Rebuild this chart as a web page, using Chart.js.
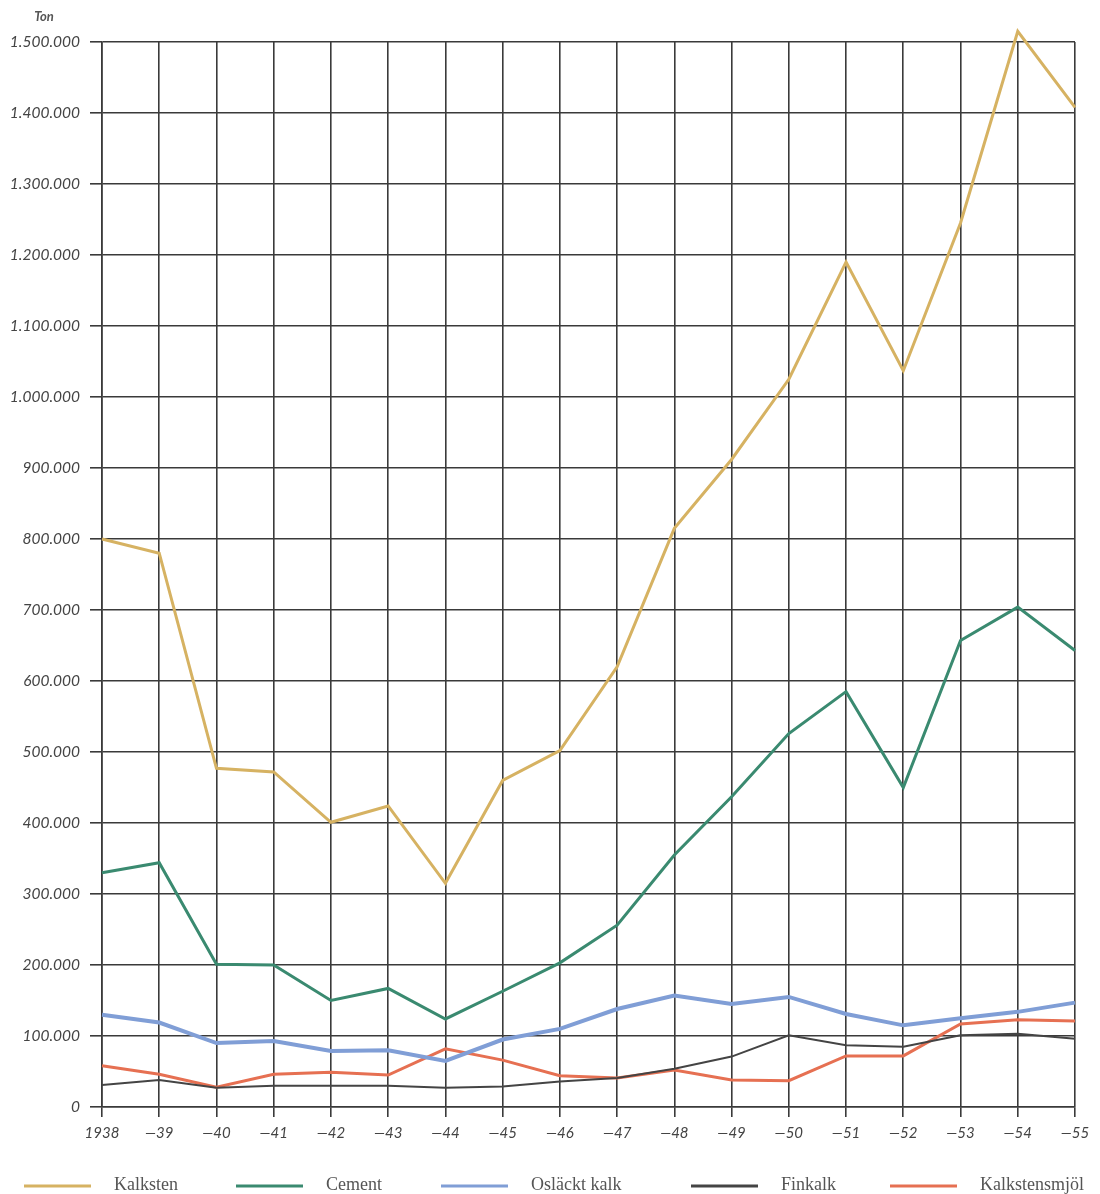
<!DOCTYPE html>
<html>
<head>
<meta charset="utf-8">
<script src="https://cdn.jsdelivr.net/npm/chart.js@4.4.0/dist/chart.umd.min.js"></script>
<style>
    html, body { margin: 0; padding: 0; background: #fff; }
</style>
</head>
<body>
<canvas id="chart" width="1100" height="1194"></canvas>
<script>
// years 1938 .. 1955, shown as 1938, —39, —40 ...
const yearLabels = ['1938', '—39', '—40', '—41', '—42', '—43', '—44', '—45', '—46',
    '—47', '—48', '—49', '—50', '—51', '—52', '—53', '—54', '—55'];

// tons
const kalksten = [800000, 780000, 477000, 472000, 401000, 424000, 315000, 460000, 502000,
    620000, 815000, 912000, 1025000, 1190000, 1037000, 1245000, 1515000, 1408000];
const cement = [330000, 344000, 201000, 200000, 150000, 167000, 124000, 163000, 203000,
    256000, 355000, 437000, 526000, 585000, 450000, 657000, 704000, 643000];
const oslacktKalk = [130000, 119000, 90000, 93000, 79000, 80000, 65000, 95000, 110000,
    138000, 157000, 145000, 155000, 131000, 115000, 125000, 134000, 147000];
const finkalk = [31000, 38000, 27000, 30000, 30000, 30000, 27000, 29000, 36000,
    41000, 54000, 71000, 101000, 87000, 85000, 101000, 103000, 96000];
const kalkstensmjol = [58000, 46000, 28000, 46000, 49000, 45000, 82000, 66000, 44000,
    41000, 52000, 38000, 37000, 72000, 72000, 117000, 123000, 121000];

const yMin = 0;
const yMax = 1500000;
const yStep = 100000;

function formatTon(value) {
    if (value === 0) return '0';
    return String(value).replace(/\B(?=(\d{3})+(?!\d))/g, '.');
}

function series(label, data, color, width) {
    return {
        label: label,
        data: data,
        borderColor: color,
        backgroundColor: color,
        borderWidth: width,
        pointRadius: 0,
        tension: 0,
        clip: false
    };
}

// small "Ton" caption above the y axis
const unitLabel = {
    id: 'unitLabel',
    afterDraw(chart) {
        const ctx = chart.ctx;
        ctx.save();
        ctx.font = 'italic bold 13px Lato';
        ctx.fillStyle = '#555';
        ctx.textAlign = 'center';
        ctx.textBaseline = 'middle';
        ctx.fillText('Ton', chart.chartArea.left - 58, chart.chartArea.top - 25);
        ctx.restore();
    }
};

// legend row along the bottom: a line sample, then the name in a serif face
const legendStarts = [24, 236, 441, 691, 890];
const legendRow = {
    id: 'legendRow',
    afterDraw(chart) {
        const ctx = chart.ctx;
        const y = chart.chartArea.bottom + 78;
        ctx.save();
        ctx.font = '18px "Liberation Serif"';
        ctx.textBaseline = 'middle';
        ctx.textAlign = 'left';
        chart.data.datasets.forEach((ds, i) => {
            const x = legendStarts[i];
            ctx.strokeStyle = ds.borderColor;
            ctx.lineWidth = 3;
            ctx.beginPath();
            ctx.moveTo(x, y + 1);
            ctx.lineTo(x + 67, y + 1);
            ctx.stroke();
            ctx.fillStyle = '#555';
            ctx.fillText(ds.label, x + 90, y);
        });
        ctx.restore();
    }
};

const gridColor = '#3a3a3a';

new Chart(document.getElementById('chart'), {
    type: 'line',
    data: {
        labels: yearLabels,
        datasets: [
            series('Kalksten', kalksten, 'rgb(214, 178, 98)', 3),
            series('Cement', cement, 'rgb(58, 138, 112)', 3),
            series('Osläckt kalk', oslacktKalk, 'rgb(128, 158, 214)', 4),
            series('Finkalk', finkalk, 'rgb(68, 68, 68)', 2),
            series('Kalkstensmjöl', kalkstensmjol, 'rgb(230, 112, 82)', 3)
        ]
    },
    options: {
        responsive: false,
        animation: false,
        layout: {
            padding: { top: 42, right: 25, bottom: 47, left: 0 }
        },
        scales: {
            x: {
                grid: { color: gridColor, lineWidth: 1.6, tickLength: 10 },
                border: { color: gridColor, width: 1.6 },
                ticks: {
                    color: '#444',
                    padding: 7,
                    maxRotation: 0,
                    autoSkip: false,
                    font: { family: 'Lato', style: 'italic', size: 15 }
                },
                afterFit: scale => { scale.height = 40; }
            },
            y: {
                min: yMin,
                max: yMax,
                grid: { color: gridColor, lineWidth: 1.6, tickLength: 12 },
                border: { color: gridColor, width: 1.6 },
                ticks: {
                    stepSize: yStep,
                    color: '#444',
                    padding: 10,
                    font: { family: 'Lato', style: 'italic', size: 15.5 },
                    callback: value => formatTon(value)
                },
                afterFit: scale => { scale.width = 102; }
            }
        },
        plugins: {
            legend: { display: false },
            tooltip: { enabled: false }
        }
    },
    plugins: [unitLabel, legendRow]
});
</script>
</body>
</html>
